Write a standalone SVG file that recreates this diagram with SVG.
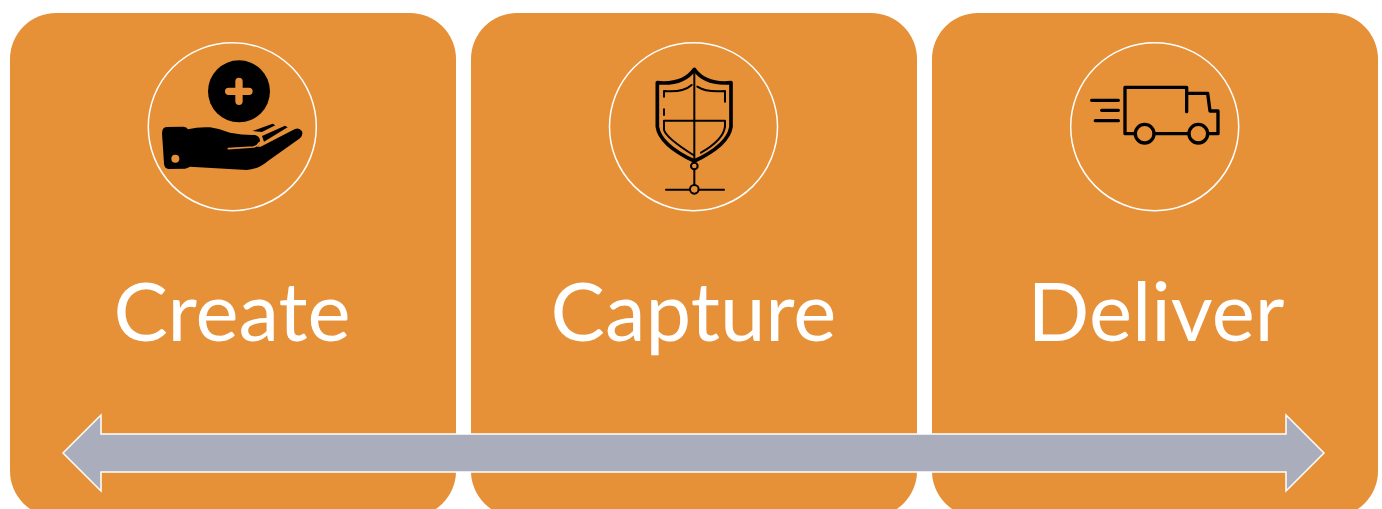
<svg xmlns="http://www.w3.org/2000/svg" width="1382" height="509" viewBox="0 0 1382 509">
<style>
.card{fill:#E69038}
.ring{fill:none;stroke:#fff;stroke-width:1.5}
.label{font-family:"Lato","Open Sans",sans-serif;font-size:81.5px;fill:#fff;text-anchor:middle}
.ink{fill:none;stroke:#000;stroke-linecap:round;stroke-linejoin:round}
.arrow{fill:#A9ADBC;stroke:#fff;stroke-width:1.5}
</style>
<rect width="1382" height="509" fill="#fff"/>
<g id="create">
<rect class="card" x="10" y="13" width="446" height="504" rx="46"/>
<circle class="ring" cx="232.300" cy="126.700" r="84"/>
<g transform="translate(140 30) scale(.3333)">
<circle cx="297" cy="184" r="93"/>
<path class="ink" d="M266 184H327M297 154V214" style="stroke:#E69038;stroke-width:22"/>
<path d="M80 291L130 290Q140 291 144 298Q175 290 210 292Q240 296 270 308Q310 316 345 315Q358 318 360 330Q360 345 350 350L362 350L465 297Q478 292 486 304Q490 316 480 325L385 392Q355 418 320 420L150 410Q142 415 135 416L85 417Q72 415 72 400L66 310Q66 292 80 291Z"/>
<path class="ink" d="M265 356L340 351Q352 349 358 338" style="stroke:#E69038;stroke-width:5"/>
<path d="M337 303L398 281L406 286L366 306ZM366 318L435 287L443 292L372 335Z"/>
<circle cx="106" cy="386" r="12" fill="#E69038"/>
</g>
<text class="label" x="232" y="341">Create</text>
</g>
<g id="capture">
<rect class="card" x="471" y="13" width="446" height="504" rx="46"/>
<circle class="ring" cx="693.500" cy="126.700" r="84"/>
<g transform="translate(600 30) scale(.3333)">
<path class="ink" style="stroke-width:11" d="M172 158Q250 165 283 118Q315 165 393 158L393 290Q385 345 283 393Q180 345 172 290Z"/>
<path class="ink" style="stroke-width:6" d="M283 130V393M192 272H375M192 272V300Q200 325 280 375M375 272V290Q370 330 303 368M192 200V183Q250 188 275 165M292 170Q320 188 375 183V215M192 238V255"/>
<path class="ink" style="stroke-width:6" d="M283 420V465M198 479H270M296 479H372"/>
<circle class="ink" style="stroke-width:6" cx="283" cy="408" r="10"/>
<circle class="ink" style="stroke-width:6" cx="283" cy="478" r="13"/>
</g>
<text class="label" x="693.500" y="341">Capture</text>
</g>
<g id="deliver">
<rect class="card" x="932" y="13" width="446" height="504" rx="46"/>
<circle class="ring" cx="1154.700" cy="126.700" r="84"/>
<g transform="translate(1060 30) scale(.3333)">
<path class="ink" style="stroke-width:10" d="M380 245V172H195V311H225M285 311H385M445 311H474V243H450L443 190H380M95 211H175M125 241H175M106 272H175"/>
<circle class="ink" style="stroke-width:10" cx="254" cy="311" r="28"/>
<circle class="ink" style="stroke-width:10" cx="415" cy="311" r="28"/>
</g>
<text class="label" x="1156" y="341">Deliver</text>
</g>
<g id="connectors">
<path class="arrow" d="M63 453L101 415V434H1286V415L1324 453L1286 491V472H101V491Z"/>
</g>
</svg>
